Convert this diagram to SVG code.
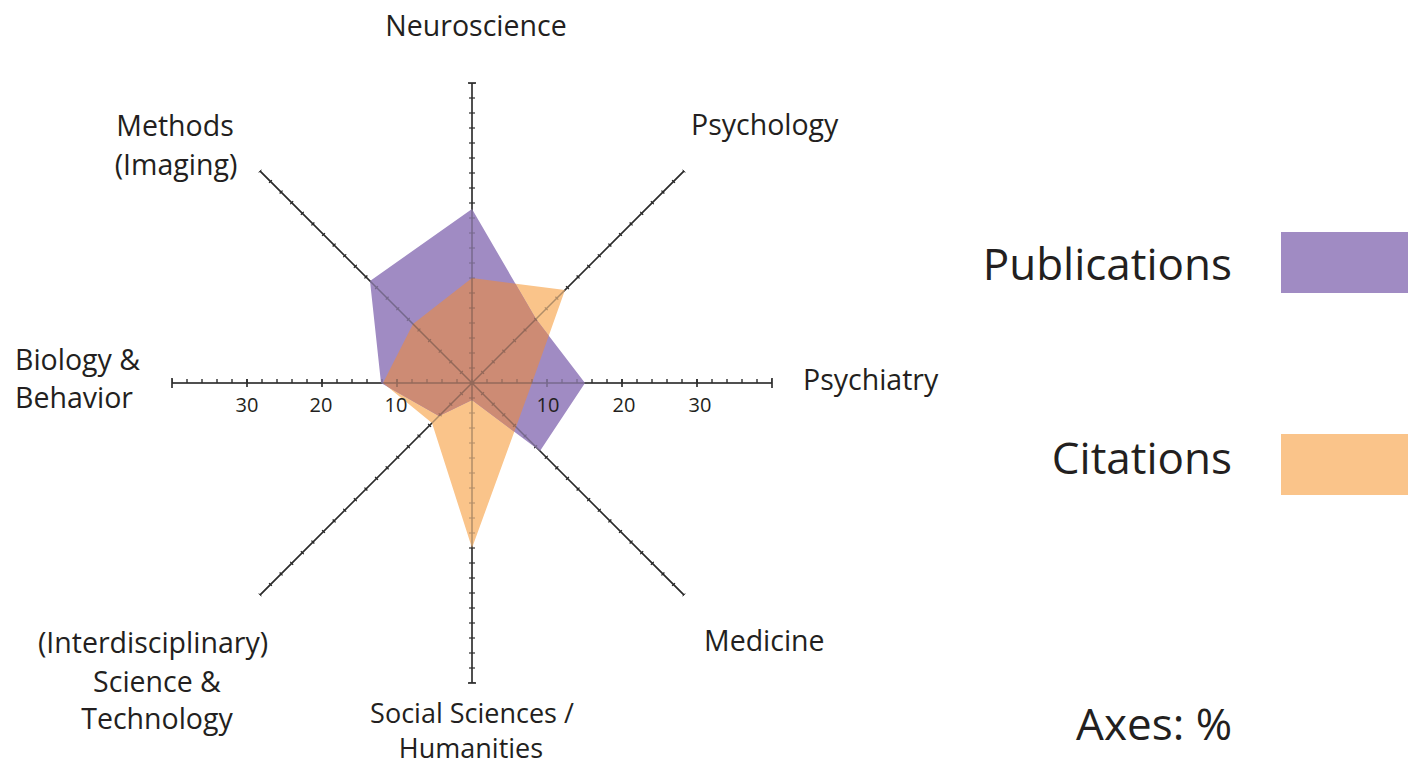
<svg xmlns="http://www.w3.org/2000/svg" xmlns:xlink="http://www.w3.org/1999/xlink" width="1408" height="766" viewBox="0 0 1408 766">
<style>
.lbl{font-family:"Open Sans","Noto Sans",sans-serif;font-size:28.5px;fill:#231f20}
.sm{font-size:27px}
.num{font-family:"Open Sans","Noto Sans",sans-serif;font-size:20px;fill:#231f20;text-anchor:middle}
.leg{font-family:"Open Sans","Noto Sans",sans-serif;font-size:44px;fill:#231f20;text-anchor:end}
.ax{stroke:#2b2b2b;stroke-width:1.5;fill:none}
.tk{stroke:#2b2b2b;fill:none;stroke-dasharray:1.2 13.8;stroke-dashoffset:0.6}
</style>
<defs>
<clipPath id="pubClip"><polygon points="472,209 536,319 585,383 540,451 472,400 439,416 381,383 370,281"/></clipPath>
</defs>
<g id="axes">
<path class="ax" d="M172 383H772M472 83V683M259.9 170.9L684.1 595.1M684.1 170.9L259.9 595.1"/>
<path class="tk" stroke-width="6" d="M472 383V83M472 383V683"/>
<path class="tk" stroke-width="4" d="M472 381H772M472 381H172"/>
<path class="tk" stroke-width="4" d="M472 383L684.1 170.9M472 383L259.9 170.9M472 383L684.1 595.1M472 383L259.9 595.1"/>
<path class="ax" d="M547 379V387M622 379V387M697 379V387M397 379V387M322 379V387M247 379V387M772 378V388M172 378V388M468 83H476M468 683H476"/>
</g>
<g id="citations">
<polygon points="472,278 565,290 532,383 516,427 472,548 432,423 383,383 413,324" fill="#fac48a"/>
</g>
<g id="publications">
<polygon points="472,209 536,319 585,383 540,451 472,400 439,416 381,383 370,281" fill="#a08bc3"/>
<polygon clip-path="url(#pubClip)" points="472,278 565,290 532,383 516,427 472,548 432,423 383,383 413,324" fill="#cd8b74"/>
</g>
<use xlink:href="#axes" opacity="0.35"/>
<g id="scale">
<text class="num" x="247" y="412">30</text>
<text class="num" x="321" y="412">20</text>
<text class="num" x="396" y="412">10</text>
<text class="num" x="548" y="412">10</text>
<text class="num" x="624" y="412">20</text>
<text class="num" x="700" y="412">30</text>
</g>
<g id="labels">
<text class="lbl" x="476" y="36" text-anchor="middle">Neuroscience</text>
<text class="lbl" x="691" y="135">Psychology</text>
<text class="lbl" x="175" y="136" text-anchor="middle">Methods</text>
<text class="lbl" x="176" y="175" text-anchor="middle">(Imaging)</text>
<text class="lbl" x="803" y="390">Psychiatry</text>
<text class="lbl" x="15" y="370">Biology &amp;</text>
<text class="lbl" x="15" y="408">Behavior</text>
<text class="lbl" x="704" y="651">Medicine</text>
<text class="lbl" x="153" y="653" text-anchor="middle">(Interdisciplinary)</text>
<text class="lbl" x="157" y="692" text-anchor="middle">Science &amp;</text>
<text class="lbl" x="157" y="729" text-anchor="middle">Technology</text>
<text class="lbl sm" x="472" y="723" text-anchor="middle">Social Sciences /</text>
<text class="lbl sm" x="471" y="758" text-anchor="middle">Humanities</text>
</g>
<g id="legend">
<text class="leg" x="1232" y="280">Publications</text>
<rect x="1281" y="232" width="127" height="61" fill="#a08bc3"/>
<text class="leg" x="1232" y="474">Citations</text>
<rect x="1281" y="434" width="127" height="61" fill="#fac48a"/>
<text class="leg" x="1232" y="740">Axes: %</text>
</g>
</svg>
